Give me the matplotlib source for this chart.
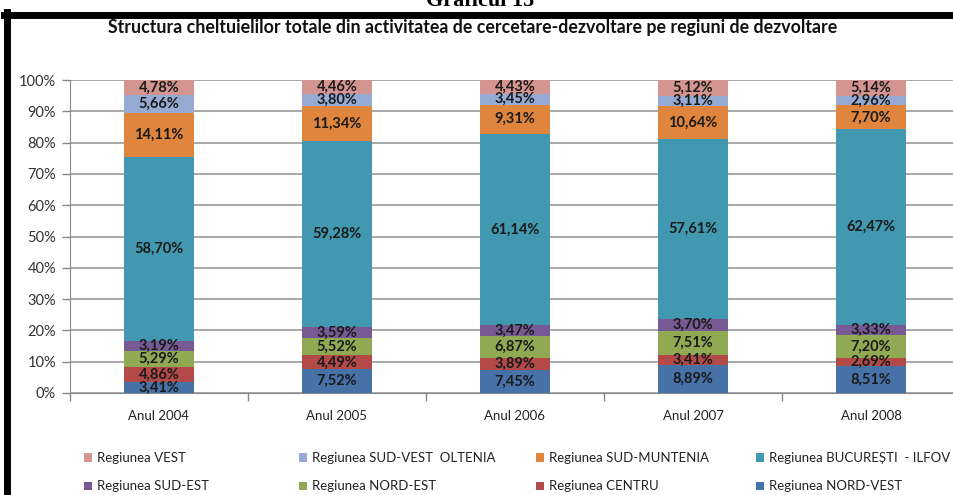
import matplotlib
matplotlib.use("Agg")
import matplotlib.pyplot as plt
from matplotlib.patches import Patch
from matplotlib.lines import Line2D
import numpy as np

plt.rcParams['font.family'] = ['Lato', 'DejaVu Sans']

categories = ["Anul 2004", "Anul 2005", "Anul 2006", "Anul 2007", "Anul 2008"]
series_names = ["Regiunea NORD-VEST", "Regiunea CENTRU", "Regiunea NORD-EST", "Regiunea SUD-EST",
                "Regiunea BUCUREȘTI  - ILFOV", "Regiunea SUD-MUNTENIA", "Regiunea SUD-VEST  OLTENIA", "Regiunea VEST"]
nord_vest = [3.41, 7.52, 7.45, 8.89, 8.51]
centru = [4.86, 4.49, 3.89, 3.41, 2.69]
nord_est = [5.29, 5.52, 6.87, 7.51, 7.20]
sud_est = [3.19, 3.59, 3.47, 3.70, 3.33]
bucuresti = [58.70, 59.28, 61.14, 57.61, 62.47]
sud_muntenia = [14.11, 11.34, 9.31, 10.64, 7.70]
sud_vest = [5.66, 3.80, 3.45, 3.11, 2.96]
vest = [4.78, 4.46, 4.43, 5.12, 5.14]
series = [nord_vest, centru, nord_est, sud_est, bucuresti, sud_muntenia, sud_vest, vest]
colors = ["#4672A8", "#B34A47", "#8FAA52", "#775A94", "#4198B0", "#E0853D", "#95ABD3", "#D49490"]

W, H = 954, 495
fig = plt.figure(figsize=(W / 100, H / 100), dpi=100)
ax = fig.add_axes([70 / W, 1 - 393 / H, 890 / W, 313 / H])

x = np.arange(len(categories))
bottom = np.zeros(len(categories))
for vals, name, c in zip(series, series_names, colors):
    v = np.array(vals)
    ax.bar(x, v, width=0.395, bottom=bottom, color=c, label=name, zorder=3)
    for xi, b, vi in zip(x, bottom, v):
        ax.text(xi, b + vi / 2, f"{vi:.2f}%".replace('.', ','), ha='center', va='center',
                fontsize=10.5, fontweight='bold', color='#1a1a1a', zorder=4)
    bottom += v

ax.set_xlim(-0.5, len(categories) - 0.5)
ax.set_ylim(0, 100)
ax.set_yticks(np.arange(0, 101, 10))
ax.set_yticklabels([f"{t}%" for t in range(0, 101, 10)], fontsize=10.5, color='#333333')
ax.set_xticks(x)
ax.set_xticklabels(categories, fontsize=9.5, color='#222222')
ax.tick_params(axis='x', length=0, pad=12)
ax.set_xticks(np.arange(-0.5, len(categories) - 0.4, 1), minor=True)
ax.tick_params(axis='x', which='minor', length=6, color='#888888', width=1)
ax.tick_params(axis='y', length=6, color='#888888', width=1, pad=4)
ax.yaxis.grid(True, color='#999999', linewidth=1.2, zorder=0)
for s in ['top', 'right']:
    ax.spines[s].set_visible(False)
ax.spines['left'].set_color('#888888')
ax.spines['bottom'].set_color('#888888')

fig.text(473 / W, 1 - 28 / H, "Structura cheltuielilor totale din activitatea de cercetare-dezvoltare pe regiuni de dezvoltare",
         ha='center', va='center', fontsize=12.8, fontweight='bold', color='#111111')

fig.text(480 / W, 1 - 6 / H, "Graficul 15", ha='center', va='baseline',
         fontsize=16, fontweight='bold', family='Liberation Serif', color='black')

# legend: 4 columns, 2 rows
cols = [(85, [7, 3]), (300, [6, 2]), (537, [5, 1]), (757, [4, 0])]
for xpos, idxs in cols:
    hs = [Patch(facecolor=colors[i], edgecolor='none') for i in idxs]
    ls = [series_names[i] for i in idxs]
    leg = fig.legend(hs, ls, loc='upper left', bbox_to_anchor=((xpos - 1) / W, 1 - 452 / H),
                     frameon=False, fontsize=9.5, handlelength=0.6, handleheight=0.6,
                     handletextpad=0.35, labelspacing=1.25, borderaxespad=0, borderpad=0)
    for t in leg.get_texts():
        t.set_color('#222222')

# frame
fig.add_artist(Line2D([7.5 / W, 7.5 / W], [0, 1 - 12 / H], color='black', linewidth=5))
fig.add_artist(Line2D([4 / W, 1], [1 - 15 / H, 1 - 15 / H], color='black', linewidth=5))

fig.savefig("out.png", dpi=100)
